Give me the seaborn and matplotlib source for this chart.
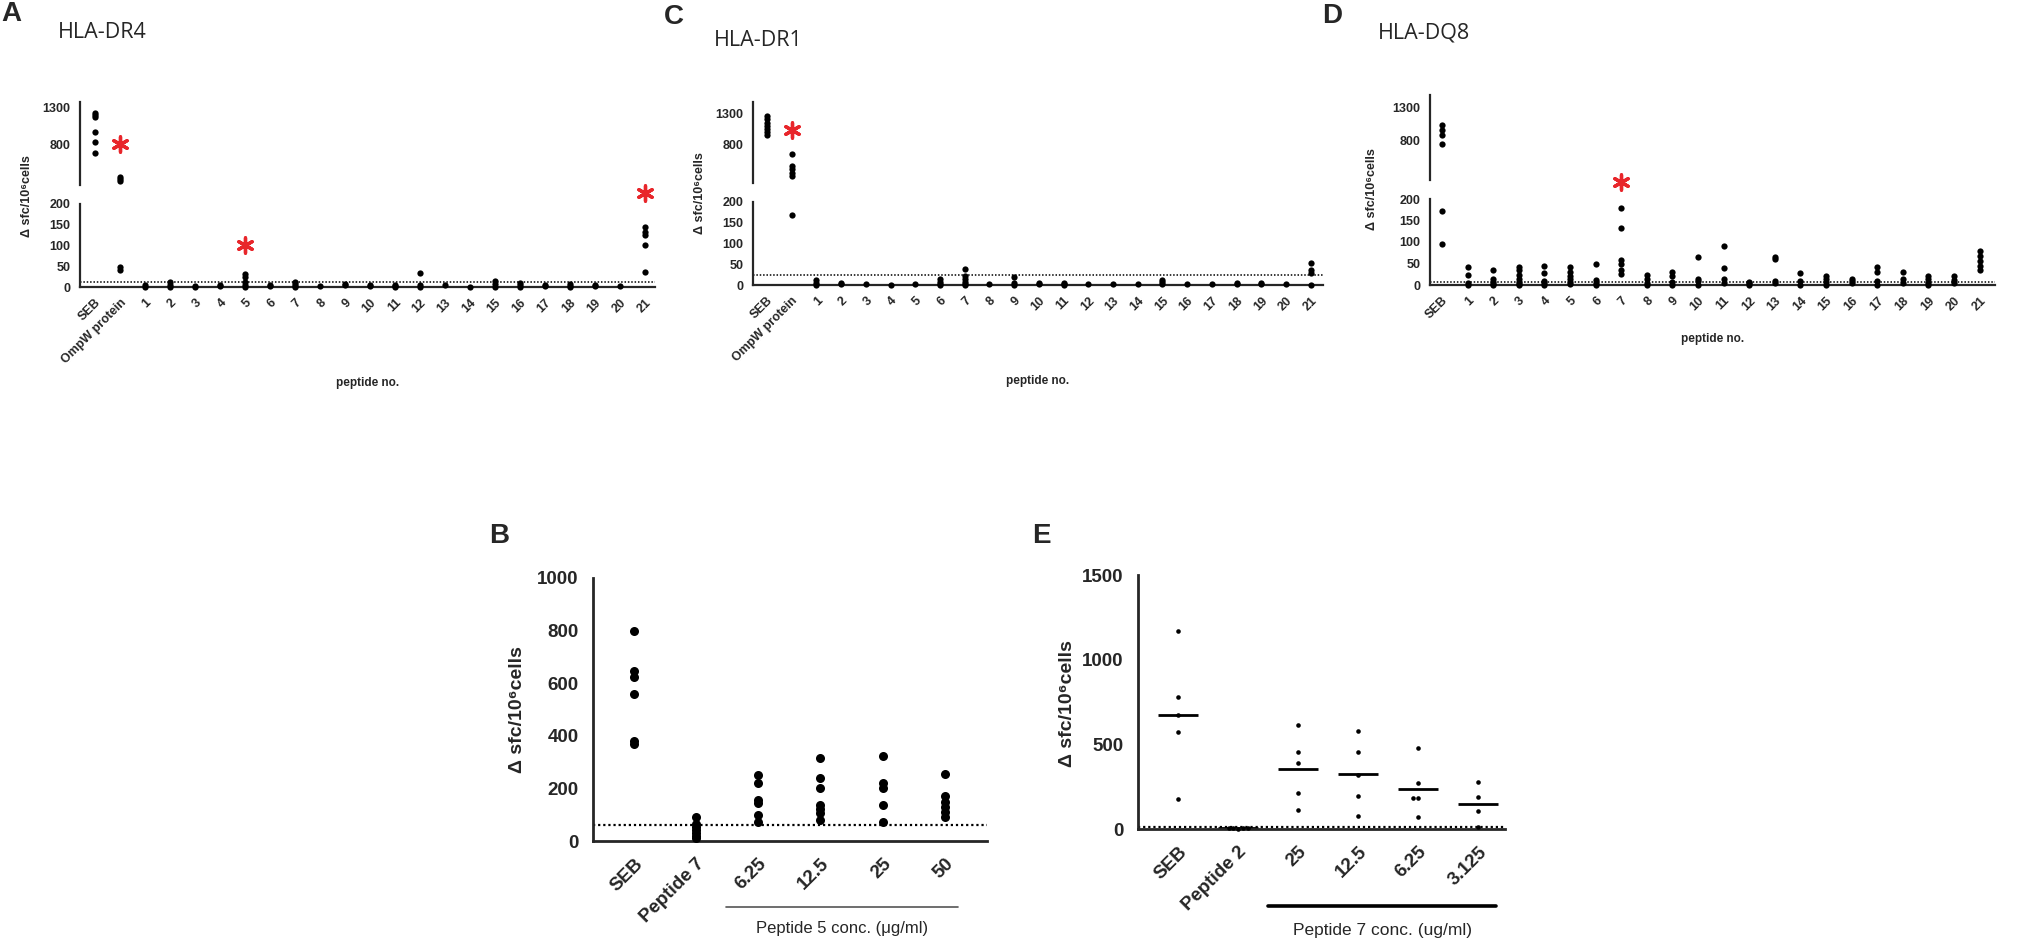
import matplotlib
matplotlib.use("Agg")
import pandas as pd
import matplotlib.pyplot as plt
import matplotlib.transforms as mtransforms
import seaborn as sns

# ---------------- data ----------------
peptides = [str(i) for i in range(1, 22)]

dr4_groups = ["SEB", "OmpW protein"] + peptides
dr4_values = [
    [1230, 1200, 1170, 970, 830, 670],
    [340, 310, 285, 48, 41],
    [4, 1], [13, 6, 0], [3, 0], [5, 2], [31, 24, 12, 5, 0], [6, 3],
    [13, 8, 3, 0], [2], [8, 4], [5, 2], [6, 2, 0], [34, 6, 0], [4], [1],
    [15, 8, 0], [10, 5, 0], [6, 2], [8, 3, 0], [5, 2], [2],
    [145, 132, 125, 100, 37],
]
dr4_threshold = 13
dr4_stars = [("OmpW protein", "upper", 800), ("5", "lower", 100), ("21", "lower", 226)]

dr1_groups = ["SEB", "OmpW protein"] + peptides
dr1_values = [
    [1250, 1200, 1150, 1100, 1050, 1000, 950],
    [660, 470, 420, 370, 320, 168],
    [13, 4, 0], [5, 2], [2], [1], [2], [14, 8, 3, 0], [38, 22, 15, 8, 3, 0],
    [2], [20, 4, 0], [5, 2], [6, 3, 0], [2], [3], [2], [12, 8, 3], [2], [2],
    [5, 2], [5, 3], [2], [52, 36, 30, 0],
]
dr1_threshold = 24
dr1_stars = [("OmpW protein", "upper", 1030)]

dq8_groups = ["SEB"] + peptides
dq8_values = [
    [1030, 950, 880, 735, 173, 95],
    [42, 24, 5, 0], [34, 15, 8, 3, 0], [43, 36, 24, 14, 8, 3, 0],
    [45, 28, 10, 4, 0], [42, 30, 22, 15, 8, 2], [49, 12, 5, 0],
    [180, 133, 58, 48, 36, 25], [23, 15, 5, 0], [30, 20, 8, 0],
    [65, 15, 10, 0], [90, 40, 15, 5], [8, 4, 0], [65, 60, 10, 5],
    [28, 10, 0], [20, 15, 8, 0], [15, 10, 5], [42, 30, 10, 0],
    [30, 15, 5], [22, 15, 5, 0], [22, 12, 5], [80, 68, 55, 45, 35],
]
dq8_threshold = 8
dq8_stars = [("7", "lower", 240)]

b_groups = ["SEB", "Peptide 7", "6.25", "12.5", "25", "50"]
b_values = [
    [800, 645, 625, 560, 380, 370],
    [90, 65, 55, 40, 30, 20, 10],
    [250, 220, 155, 145, 100, 72],
    [315, 240, 200, 135, 120, 105, 78],
    [322, 222, 200, 138, 72],
    [255, 170, 150, 130, 110, 90],
]
b_threshold = 60

e_groups = ["SEB", "Peptide 2", "25", "12.5", "6.25", "3.125"]
e_values = [
    [1170, 780, 675, 570, 180],
    [8, 6, 5, 3, 2],
    [614, 453, 388, 215, 112],
    [581, 457, 319, 195, 79],
    [476, 274, 181, 181, 73],
    [280, 191, 108, 14],
]
e_threshold = 10

YLABEL = "Δ sfc/10⁶cells"
RED = "#e8262b"

# ---------------- style ----------------
sns.set_style("white")
plt.rcParams["font.family"] = ["Liberation Sans", "DejaVu Sans"]
plt.rcParams["font.weight"] = "bold"
plt.rcParams["axes.linewidth"] = 1.6

W, H = 2023, 946
fig = plt.figure(figsize=(W / 100, H / 100), dpi=100)


def rect(left, top, right, bottom):
    return [left / W, 1 - bottom / H, (right - left) / W, (bottom - top) / H]


def to_long(groups, values):
    rows = [(g, v) for g, vals in zip(groups, values) for v in vals]
    return pd.DataFrame(rows, columns=["group", "value"])


def fig_text(x, y, s, **kw):
    fig.text(x / W, 1 - y / H, s, **kw)


def top_panel(groups, values, thr, stars, left, right, up_tb, lo_tb, up_lim, xlim):
    df = to_long(groups, values)
    ax_up = fig.add_axes(rect(left, up_tb[0], right, up_tb[1]))
    ax_lo = fig.add_axes(rect(left, lo_tb[0], right, lo_tb[1]))
    sns.stripplot(data=df[df.value > 200], x="group", y="value", order=groups,
                  jitter=False, color="black", size=4.5, ax=ax_up)
    sns.stripplot(data=df[df.value <= 200], x="group", y="value", order=groups,
                  jitter=False, color="black", size=4.5, ax=ax_lo)
    for ax in (ax_up, ax_lo):
        ax.set_xlim(xlim)
        ax.set_xlabel("")
        ax.set_ylabel("")
        for c in ax.collections:
            c.set_clip_on(False)
        for s in ("top", "right"):
            ax.spines[s].set_visible(False)
        ax.tick_params(labelsize=9, width=1.6, length=5, pad=2)
    ax_up.set_ylim(up_lim)
    ax_up.spines["bottom"].set_visible(False)
    ax_up.set_xticks([])
    ax_up.set_yticks([800, 1300])
    ax_up.set_yticks([up_lim[0]], minor=True)
    ax_up.tick_params(axis="y", which="minor", direction="inout", length=11, width=1.6)
    ax_lo.set_ylim(0, 200)
    ax_lo.set_yticks([0, 50, 100, 150, 200])
    ax_lo.set_yticks([200], minor=True)
    ax_lo.tick_params(axis="y", which="minor", direction="inout", length=11, width=1.6)
    ax_lo.set_xticks(range(len(groups)))
    ax_lo.set_xticklabels(groups, rotation=45, ha="right", rotation_mode="anchor")
    ax_lo.axhline(thr, color="black", lw=1.1, ls=(0, (1, 1.2)))
    ax_lo.set_xlabel("peptide no.", fontsize=8.5, fontweight="bold", labelpad=8)
    for name, where, y in stars:
        ax = ax_up if where == "upper" else ax_lo
        ax.scatter([groups.index(name)], [y], marker=(6, 2, 0), s=120,
                   linewidths=2.4, color=RED, clip_on=False, zorder=5)
    return ax_up, ax_lo


# ---------------- top row ----------------
top_panel(dr4_groups, dr4_values, dr4_threshold, dr4_stars,
          80, 655, (102, 185), (204, 287), (231, 1383), (-0.6, 22.4))
top_panel(dr1_groups, dr1_values, dr1_threshold, dr1_stars,
          753, 1323, (102, 183), (202, 285), (206, 1472), (-0.57, 22.5))
top_panel(dq8_groups, dq8_values, dq8_threshold, dq8_stars,
          1430, 1995, (95, 180), (199, 285), (194, 1482), (-0.47, 21.6))

fig_text(1, 1, "A", fontsize=20, fontweight="bold", va="top")
fig_text(664, 4, "C", fontsize=20, fontweight="bold", va="top")
fig_text(1322, 3, "D", fontsize=20, fontweight="bold", va="top")
title_font = ["Open Sans", "DejaVu Sans"]
fig_text(58, 33, "HLA-DR4", fontsize=15.5, fontweight="normal", va="center",
         family=title_font)
fig_text(714, 40, "HLA-DR1", fontsize=15.5, fontweight="normal", va="center",
         family=title_font)
fig_text(1378, 33, "HLA-DQ8", fontsize=15.5, fontweight="normal", va="center",
         family=title_font)
for x, y in [(27, 196), (700, 193), (1372, 189)]:
    fig_text(x, y, YLABEL, fontsize=9, fontweight="bold", rotation=90,
             ha="center", va="center")


# ---------------- bottom row ----------------
def bottom_panel(groups, values, thr, left, top, right, bottom, ylim, yticks, xlim,
                 swarm=False):
    df = to_long(groups, values)
    ax = fig.add_axes(rect(left, top, right, bottom))
    if swarm:
        sns.swarmplot(data=df, x="group", y="value", order=groups, color="black",
                      size=3.3, ax=ax)
        means = df.groupby("group", sort=False)["value"].mean().reindex(groups)
        for i, m in enumerate(means):
            ax.hlines(m, i - 0.33, i + 0.33, color="black", lw=2)
    else:
        sns.stripplot(data=df, x="group", y="value", order=groups, jitter=False,
                      color="black", size=6.5, ax=ax)
    for c in ax.collections:
        c.set_clip_on(False)
    ax.set_xlim(xlim)
    ax.set_ylim(ylim)
    ax.set_yticks(yticks)
    ax.set_xticks(range(len(groups)))
    ax.set_xticklabels(groups, rotation=45, ha="right", rotation_mode="anchor")
    ax.set_xlabel("")
    ax.set_ylabel("")
    for s in ("top", "right"):
        ax.spines[s].set_visible(False)
    for s in ("left", "bottom"):
        ax.spines[s].set_linewidth(2)
    ax.tick_params(labelsize=13.5, width=2, length=7)
    ax.axhline(thr, color="black", lw=1.6, ls=(0, (1, 1.3)))
    return ax


ax_b = bottom_panel(b_groups, b_values, b_threshold, 593, 578, 987, 841,
                    (0, 1000), [0, 200, 400, 600, 800, 1000], (-0.66, 5.68))
ax_e = bottom_panel(e_groups, e_values, e_threshold, 1138, 575, 1505, 829,
                    (0, 1500), [0, 500, 1000, 1500], (-0.67, 5.45), swarm=True)

tb = mtransforms.blended_transform_factory(ax_b.transData, fig.transFigure)
ax_b.plot([1.48, 5.21], [1 - 907 / H] * 2, color="#555555", lw=1.2,
          transform=tb, clip_on=False)
ax_b.text(3.35, 1 - 928 / H, "Peptide 5 conc. (\u03bcg/ml)", transform=tb,
          ha="center", va="center", fontsize=12, fontweight="normal")
te = mtransforms.blended_transform_factory(ax_e.transData, fig.transFigure)
ax_e.plot([1.5, 5.3], [1 - 906 / H] * 2, color="black", lw=2.6,
          transform=te, clip_on=False)
ax_e.text(3.4, 1 - 930 / H, "Peptide 7 conc. (ug/ml)", transform=te,
          ha="center", va="center", fontsize=12.5, fontweight="normal")

fig_text(489, 523, "B", fontsize=20, fontweight="bold", va="top")
fig_text(1032, 523, "E", fontsize=20, fontweight="bold", va="top")
fig_text(518, 710, YLABEL, fontsize=14, fontweight="bold", rotation=90,
         ha="center", va="center")
fig_text(1068, 704, YLABEL, fontsize=14, fontweight="bold", rotation=90,
         ha="center", va="center")

fig.savefig("out.png", dpi=100, facecolor="white")
